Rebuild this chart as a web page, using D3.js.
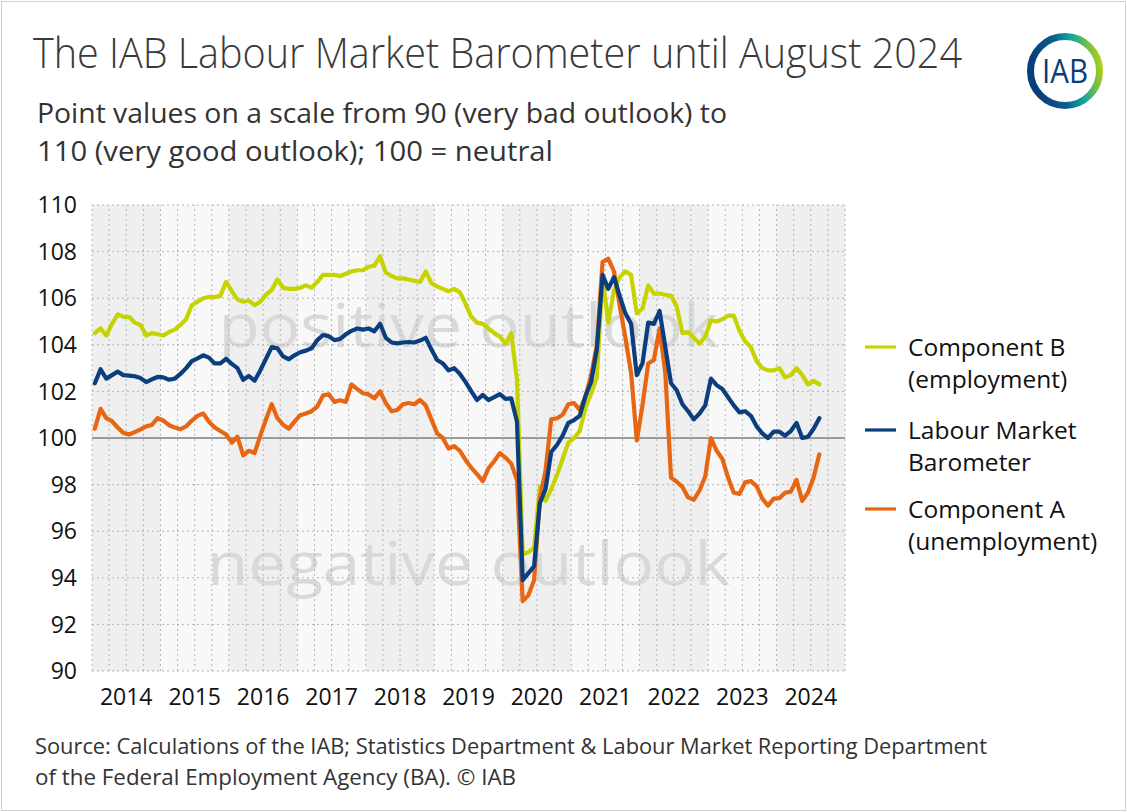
<!DOCTYPE html>
<html>
<head>
<meta charset="utf-8">
<script src="https://cdn.jsdelivr.net/npm/d3@7"></script>
<style>
  body { margin: 0; background: #fff; }
  svg text { font-family: "Open Sans", "Noto Sans", sans-serif; }
</style>
</head>
<body>
<div id="container"></div>
<script>
/* CONSTANTS AND GLOBALS */
const width = 1127;
const height = 812;

// monthly values, Jan 2014 - Aug 2024
const years = [2014, 2015, 2016, 2017, 2018, 2019, 2020, 2021, 2022, 2023, 2024];
const yTicks = [90, 92, 94, 96, 98, 100, 102, 104, 106, 108, 110];

const componentB = [
  104.5, 104.7, 104.4, 104.9, 105.3, 105.2, 105.2, 104.95, 104.85, 104.4, 104.5, 104.45,
  104.4, 104.55, 104.65, 104.85, 105.1, 105.7, 105.85, 106.0, 106.05, 106.05, 106.1, 106.7,
  106.3, 105.95, 105.85, 105.9, 105.7, 105.85, 106.15, 106.35, 106.8, 106.45, 106.4, 106.4,
  106.45, 106.55, 106.45, 106.7, 107.0, 107.0, 107.0, 106.95, 107.05, 107.15, 107.2, 107.2,
  107.35, 107.4, 107.8, 107.1, 106.95, 106.85, 106.85, 106.8, 106.75, 106.7, 107.15, 106.65,
  106.5, 106.4, 106.3, 106.4, 106.25, 105.75, 105.2, 104.95, 104.9, 104.7, 104.5, 104.35,
  104.05, 104.5, 102.5, 95.0, 95.1, 95.3, 97.9, 97.3, 97.8, 98.4, 99.1, 99.8,
  100.0, 100.3, 101.3, 101.9, 102.6, 106.9, 104.95, 106.35, 106.9, 107.15, 107.0, 105.35,
  105.55, 106.55, 106.2, 106.2, 106.15, 106.1, 105.65, 104.5, 104.55, 104.3, 104.05, 104.35,
  105.05, 105.0, 105.1, 105.25, 105.25, 104.6, 104.15, 103.9, 103.3, 103.0, 102.9, 102.9,
  103.0, 102.6, 102.7, 103.0, 102.7, 102.3, 102.45, 102.3
];

const barometer = [
  102.35, 102.95, 102.55, 102.7, 102.85, 102.7, 102.68, 102.65, 102.57, 102.4, 102.52, 102.62,
  102.6, 102.5, 102.55, 102.75, 103.0, 103.3, 103.42, 103.55, 103.45, 103.2, 103.2, 103.4,
  103.18, 103.0, 102.5, 102.66, 102.46, 102.9, 103.4, 103.9, 103.85, 103.5, 103.38, 103.55,
  103.68, 103.75, 103.85, 104.2, 104.42, 104.37, 104.2, 104.25, 104.45, 104.6, 104.7, 104.65,
  104.7, 104.58, 104.9, 104.3, 104.1, 104.06, 104.1, 104.12, 104.1, 104.18, 104.3, 103.8,
  103.35, 103.2, 102.9, 103.0, 102.75, 102.4, 102.0, 101.63, 101.85, 101.63, 101.75, 101.88,
  101.68, 101.7, 100.7, 93.9, 94.2, 94.5, 97.2, 97.8, 99.4, 99.7, 100.1, 100.65,
  100.77, 100.95, 101.8, 102.4, 103.8, 107.0, 106.4, 106.9, 106.1, 105.35, 104.9, 102.7,
  103.2, 104.95, 104.9, 105.45, 103.9, 102.35, 102.05, 101.45, 101.15, 100.8, 101.05, 101.4,
  102.55, 102.27, 102.1, 101.75, 101.4, 101.1, 101.15, 100.95, 100.5, 100.2, 100.0, 100.27,
  100.27, 100.1, 100.3, 100.65, 100.0, 100.05, 100.4, 100.85
];

const componentA = [
  100.4, 101.25, 100.85, 100.72, 100.45, 100.22, 100.15, 100.25, 100.37, 100.5, 100.56, 100.85,
  100.75, 100.55, 100.45, 100.38, 100.5, 100.75, 100.95, 101.05, 100.7, 100.45, 100.3, 100.15,
  99.8, 100.05, 99.25, 99.45, 99.35, 100.1, 100.8, 101.45, 100.85, 100.57, 100.4, 100.7,
  100.98, 101.05, 101.15, 101.35, 101.83, 101.88, 101.55, 101.62, 101.55, 102.3, 102.1, 101.92,
  101.87, 101.7, 102.0, 101.5, 101.15, 101.2, 101.45, 101.5, 101.45, 101.63, 101.4, 100.8,
  100.2, 100.0, 99.55, 99.65, 99.45, 99.05, 98.72, 98.45, 98.15, 98.7, 99.0, 99.35,
  99.15, 98.9, 98.2, 93.0, 93.25, 93.9, 97.4, 98.6, 100.8, 100.85, 101.0, 101.45,
  101.5, 101.2, 101.77, 102.7, 104.0, 107.55, 107.7, 107.15, 105.7, 104.3, 102.8, 99.9,
  101.4, 103.2, 103.35, 104.7, 102.8, 98.3, 98.12, 97.9, 97.45, 97.35, 97.75, 98.35,
  100.0, 99.45, 99.1, 98.3, 97.65, 97.6, 98.1, 98.15, 97.93, 97.4, 97.1, 97.4,
  97.42, 97.65, 97.7, 98.2, 97.3, 97.65, 98.3, 99.3
];

const legendLabels = [["Component B", "(employment)"], ["Labour Market", "Barometer"], ["Component A", "(unemployment)"]];
const colors = ["#c6d300", "#0b3e7d", "#e86512"];

/* HTML ELEMENTS */
const svg = d3.select("#container")
  .append("svg")
  .attr("width", width)
  .attr("height", height);

svg.append("rect")
  .attr("x", 1.5).attr("y", 1.5)
  .attr("width", width - 3).attr("height", height - 3)
  .attr("fill", "#fff")
  .attr("stroke", "#cfcfcf");

/* SCALES */
const xScale = d3.scaleLinear()
  .domain([0, years.length * 12])
  .range([92, 845]);

const yScale = d3.scaleLinear()
  .domain([90, 110])
  .range([671, 205]);

// year bands
svg.append("g")
  .selectAll("rect")
  .data(years)
  .join("rect")
  .attr("x", (d, i) => xScale(i * 12))
  .attr("y", yScale(110))
  .attr("width", xScale(12) - xScale(0))
  .attr("height", yScale(90) - yScale(110))
  .attr("fill", (d, i) => i % 2 === 0 ? "#efefef" : "#f8f8f8");

// watermark
const marks = svg.append("g").attr("fill", "#d9d9d9").attr("font-size", 60);
marks.append("text")
  .attr("x", xScale(66))
  .attr("y", yScale(103.9))
  .attr("text-anchor", "middle")
  .attr("textLength", 500)
  .attr("lengthAdjust", "spacingAndGlyphs")
  .text("positive outlook");
marks.append("text")
  .attr("x", xScale(66))
  .attr("y", yScale(93.7))
  .attr("text-anchor", "middle")
  .attr("textLength", 523)
  .attr("lengthAdjust", "spacingAndGlyphs")
  .text("negative outlook");

// grid
const grid = svg.append("g")
  .attr("stroke", "#b4b4b4")
  .attr("stroke-dasharray", "2,3");
grid.selectAll(".hg")
  .data(yTicks.filter(d => d !== 100))
  .join("line")
  .attr("x1", xScale(0)).attr("x2", xScale(132))
  .attr("y1", d => yScale(d)).attr("y2", d => yScale(d));
grid.selectAll(".vg")
  .data(d3.range(0, 133, 3))
  .join("line")
  .attr("x1", d => xScale(d)).attr("x2", d => xScale(d))
  .attr("y1", yScale(90)).attr("y2", yScale(110));

svg.append("line")
  .attr("x1", xScale(0)).attr("x2", xScale(132))
  .attr("y1", yScale(100)).attr("y2", yScale(100))
  .attr("stroke", "#9a9a9a")
  .attr("stroke-width", 2);

// axes labels
svg.append("g")
  .selectAll("text")
  .data(yTicks)
  .join("text")
  .attr("x", 77)
  .attr("y", d => yScale(d))
  .attr("dy", "0.36em")
  .attr("text-anchor", "end")
  .attr("font-size", 23)
  .attr("fill", "#111")
  .text(d => d);

svg.append("g")
  .selectAll("text")
  .data(years)
  .join("text")
  .attr("x", (d, i) => xScale(i * 12 + 6))
  .attr("y", 705)
  .attr("text-anchor", "middle")
  .attr("font-size", 23)
  .attr("fill", "#111")
  .text(d => d);

// lines
const line = d3.line()
  .x((d, i) => xScale(i + 0.5))
  .y(d => yScale(d));

const drawOrder = [[componentB, colors[0]], [componentA, colors[2]], [barometer, colors[1]]];
svg.append("g")
  .selectAll("path")
  .data(drawOrder)
  .join("path")
  .attr("d", d => line(d[0]))
  .attr("fill", "none")
  .attr("stroke", d => d[1])
  .attr("stroke-width", 4.2)
  .attr("stroke-linejoin", "round")
  .attr("stroke-linecap", "round");

// legend
const legendY = [347, 430, 509];
const legend = svg.append("g")
  .selectAll("g")
  .data(legendLabels)
  .join("g")
  .attr("transform", (d, i) => `translate(865, ${legendY[i]})`);
legend.append("line")
  .attr("x1", 0).attr("x2", 31)
  .attr("stroke", (d, i) => colors[i])
  .attr("stroke-width", 3.2);
legend.append("text")
  .attr("x", 43).attr("y", 9)
  .attr("font-size", 24.5)
  .attr("fill", "#111")
  .text(d => d[0]);
legend.append("text")
  .attr("x", 43).attr("y", 41)
  .attr("font-size", 24.5)
  .attr("fill", "#111")
  .text(d => d[1]);

// title, subtitle, source
svg.append("text")
  .attr("x", 33).attr("y", 68)
  .attr("font-size", 42)
  .attr("font-weight", 300)
  .attr("fill", "#3a3a3a")
  .attr("textLength", 929)
  .attr("lengthAdjust", "spacingAndGlyphs")
  .text("The IAB Labour Market Barometer until August 2024");

svg.append("text")
  .attr("x", 37).attr("y", 123)
  .attr("font-size", 27)
  .attr("fill", "#333")
  .attr("textLength", 690)
  .attr("lengthAdjust", "spacingAndGlyphs")
  .text("Point values on a scale from 90 (very bad outlook) to");
svg.append("text")
  .attr("x", 37).attr("y", 161)
  .attr("font-size", 27)
  .attr("fill", "#333")
  .attr("textLength", 516)
  .attr("lengthAdjust", "spacingAndGlyphs")
  .text("110 (very good outlook); 100 = neutral");

svg.append("text")
  .attr("x", 35).attr("y", 754)
  .attr("font-size", 21)
  .attr("fill", "#333")
  .attr("textLength", 952)
  .attr("lengthAdjust", "spacingAndGlyphs")
  .text("Source: Calculations of the IAB; Statistics Department & Labour Market Reporting Department");
svg.append("text")
  .attr("x", 35).attr("y", 785)
  .attr("font-size", 21)
  .attr("fill", "#333")
  .attr("textLength", 481)
  .attr("lengthAdjust", "spacingAndGlyphs")
  .text("of the Federal Employment Agency (BA). © IAB");

// logo
const grad = svg.append("defs").append("linearGradient")
  .attr("id", "ring")
  .attr("x1", "0").attr("y1", "0.2")
  .attr("x2", "1").attr("y2", "0");
grad.append("stop").attr("offset", "0").attr("stop-color", "#0a3d7c");
grad.append("stop").attr("offset", "0.35").attr("stop-color", "#0a5e8e");
grad.append("stop").attr("offset", "0.6").attr("stop-color", "#14a5a0");
grad.append("stop").attr("offset", "1").attr("stop-color", "#c8d400");

svg.append("circle")
  .attr("cx", 1065).attr("cy", 71)
  .attr("r", 34.5)
  .attr("fill", "#fff")
  .attr("stroke", "url(#ring)")
  .attr("stroke-width", 7);
svg.append("text")
  .attr("x", 1065).attr("y", 83)
  .attr("text-anchor", "middle")
  .attr("font-size", 32)
  .attr("fill", "#0a3d7c")
  .attr("textLength", 46)
  .attr("lengthAdjust", "spacingAndGlyphs")
  .text("IAB");
</script>
</body>
</html>
